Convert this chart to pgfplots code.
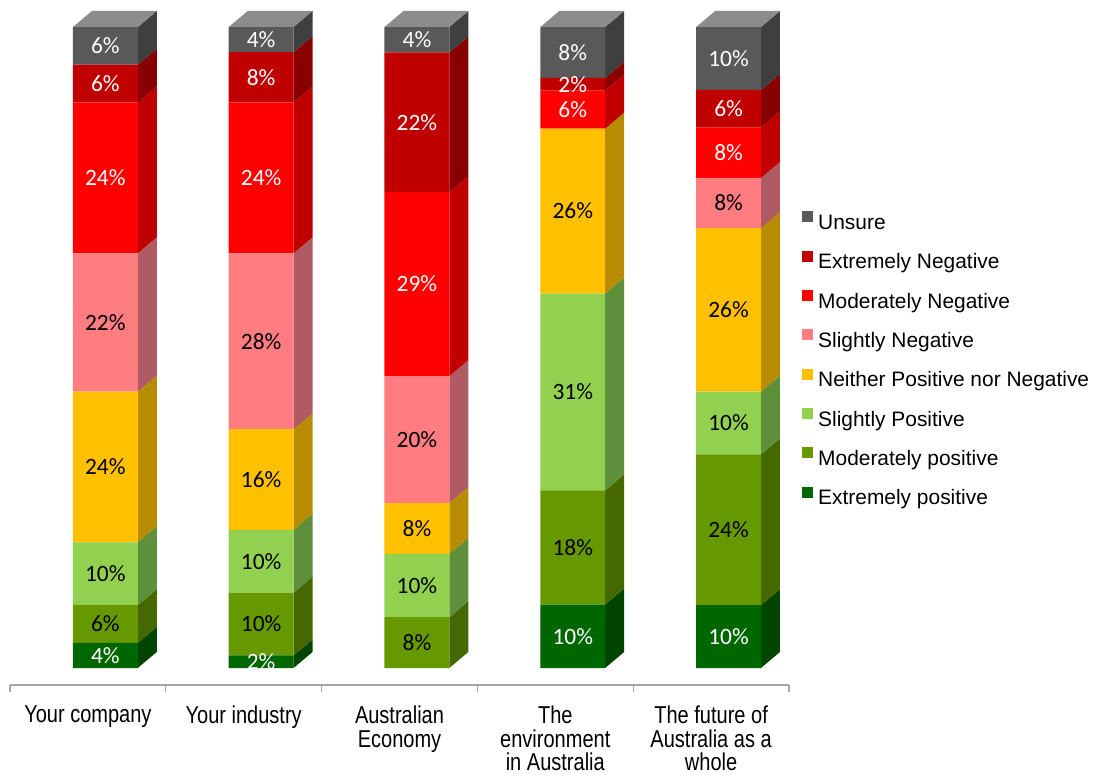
\documentclass[border=0pt]{standalone}
\usepackage{pgfplots}
\pgfplotsset{compat=1.18}
\usepackage{pgfplotstable}
\usepackage{fontspec}
\setmainfont{Liberation Sans}
\newfontfamily\lblfont{Carlito}
\newfontfamily\narrowfont[FakeStretch=0.82]{Liberation Sans}

\definecolor{cUn}{HTML}{595959}
\definecolor{cUnS}{HTML}{3F3F3F}
\definecolor{cEN}{HTML}{C00000}
\definecolor{cENS}{HTML}{880000}
\definecolor{cMN}{HTML}{FF0000}
\definecolor{cMNS}{HTML}{C00000}
\definecolor{cSN}{HTML}{FF7C80}
\definecolor{cSNS}{HTML}{B05A63}
\definecolor{cNe}{HTML}{FFC000}
\definecolor{cNeS}{HTML}{B88C00}
\definecolor{cSP}{HTML}{92D050}
\definecolor{cSPS}{HTML}{5E8F3A}
\definecolor{cMP}{HTML}{669900}
\definecolor{cMPS}{HTML}{456800}
\definecolor{cEP}{HTML}{006600}
\definecolor{cEPS}{HTML}{004600}
\definecolor{cTop}{HTML}{8C8C8C}
\definecolor{cAxis}{HTML}{A6A6A6}

% values as read (each bar rescaled so that it sums to 100), label = printed value
\pgfplotstableread{
x y lab
0 3.92 4\%
1 1.96 2\%
2 0 {}
3 9.90 10\%
4 9.80 10\%
}\extpos
\pgfplotstableread{
x y lab
0 5.88 6\%
1 9.80 10\%
2 7.92 8\%
3 17.82 18\%
4 23.53 24\%
}\modpos
\pgfplotstableread{
x y lab
0 9.80 10\%
1 9.80 10\%
2 9.90 10\%
3 30.69 31\%
4 9.80 10\%
}\slipos
\pgfplotstableread{
x y lab
0 23.53 24\%
1 15.69 16\%
2 7.92 8\%
3 25.74 26\%
4 25.49 26\%
}\neither
\pgfplotstableread{
x y lab
0 21.57 22\%
1 27.45 28\%
2 19.80 20\%
3 0 {}
4 7.84 8\%
}\slineg
\pgfplotstableread{
x y lab
0 23.53 24\%
1 23.53 24\%
2 28.71 29\%
3 5.94 6\%
4 7.84 8\%
}\modneg
\pgfplotstableread{
x y lab
0 5.88 6\%
1 7.84 8\%
2 21.78 22\%
3 1.98 2\%
4 5.88 6\%
}\extneg
\pgfplotstableread{
x y lab
0 5.88 6\%
1 3.92 4\%
2 3.96 4\%
3 7.92 8\%
4 9.80 10\%
}\unsure

% side face of one stacked segment: x index, bottom, top, colour
\newcommand\face[4]{%
  \pgfmathsetmacro\xa{#1+0.32}%
  \pgfmathsetmacro\xb{#1+0.442}%
  \pgfmathsetmacro\ya{#2+2.5}%
  \pgfmathsetmacro\yb{#3+2.5}%
  \edef\tmp{\noexpand\addplot[fill=#4,draw=none,mark=none] coordinates {(\xa,#2) (\xb,\ya) (\xb,\yb) (\xa,#3)};}%
  \tmp}
\newcommand\topface[1]{%
  \pgfmathsetmacro\xa{#1-0.096}%
  \pgfmathsetmacro\xc{#1+0.026}%
  \pgfmathsetmacro\xb{#1+0.442}%
  \pgfmathsetmacro\xd{#1+0.32}%
  \edef\tmp{\noexpand\addplot[fill=cTop,draw=none,mark=none] coordinates {(\xa,100) (\xc,102.5) (\xb,102.5) (\xd,100)};}%
  \tmp}

\pgfplotsset{
  common/.style={
    at={(10bp,91bp)}, anchor=south west,
    scale only axis, width=779bp, height=685bp,
    xmin=-0.5, xmax=4.5, ymin=-2.652, ymax=104.212, clip=false,
  },
  lbl/.style={nodes near coords, point meta=explicit symbolic,
    every node near coord/.append style={font=\lblfont\fontsize{23.5}{28}\selectfont, text=#1, anchor=center}},
}

\begin{document}
\begin{tikzpicture}
\useasboundingbox (0,0) rectangle (1101bp,776bp);
% 3D side and top faces
\begin{axis}[common, hide axis]
\face{0}{0}{3.92}{cEPS}\face{0}{3.92}{9.80}{cMPS}\face{0}{9.80}{19.60}{cSPS}\face{0}{19.60}{43.13}{cNeS}
\face{0}{43.13}{64.70}{cSNS}\face{0}{64.70}{88.23}{cMNS}\face{0}{88.23}{94.11}{cENS}\face{0}{94.11}{100}{cUnS}
\face{1}{0}{1.96}{cEPS}\face{1}{1.96}{11.76}{cMPS}\face{1}{11.76}{21.56}{cSPS}\face{1}{21.56}{37.25}{cNeS}
\face{1}{37.25}{64.70}{cSNS}\face{1}{64.70}{88.23}{cMNS}\face{1}{88.23}{96.07}{cENS}\face{1}{96.07}{100}{cUnS}
\face{2}{0}{7.92}{cMPS}\face{2}{7.92}{17.82}{cSPS}\face{2}{17.82}{25.74}{cNeS}
\face{2}{25.74}{45.54}{cSNS}\face{2}{45.54}{74.25}{cMNS}\face{2}{74.25}{96.03}{cENS}\face{2}{96.03}{100}{cUnS}
\face{3}{0}{9.90}{cEPS}\face{3}{9.90}{27.72}{cMPS}\face{3}{27.72}{58.41}{cSPS}\face{3}{58.41}{84.15}{cNeS}
\face{3}{84.15}{90.09}{cMNS}\face{3}{90.09}{92.07}{cENS}\face{3}{92.07}{100}{cUnS}
\face{4}{0}{9.80}{cEPS}\face{4}{9.80}{33.33}{cMPS}\face{4}{33.33}{43.13}{cSPS}\face{4}{43.13}{68.62}{cNeS}
\face{4}{68.62}{76.46}{cSNS}\face{4}{76.46}{84.30}{cMNS}\face{4}{84.30}{90.18}{cENS}\face{4}{90.18}{100}{cUnS}
\topface{0}\topface{1}\topface{2}\topface{3}\topface{4}
\end{axis}
% front faces
\begin{axis}[common,
  ybar stacked, bar width=0.417, bar shift=0.112,
  axis y line=none, axis x line*=bottom,
  x axis line style={draw=cAxis, line width=2.5bp},
  xtick={0,1,2,3,4},
  xticklabels={{Your company},{Your industry},{Australian\\Economy},{The\\environment\\in Australia},{The future of\\Australia as a\\whole}},
  major tick length=0pt,
  minor xtick={-0.5,0.5,1.5,2.5,3.5,4.5},
  minor tick length=7bp, tick align=outside,
  minor tick style={draw=cAxis, line width=1.2bp},
  xticklabel style={font=\narrowfont\fontsize{24.5}{23.5}\selectfont, align=center, anchor=north, inner sep=0pt, yshift=-21bp},
  legend image code/.code={\path[#1,draw=none] (0bp,2bp) rectangle (11bp,13bp);},
  reverse legend, legend cell align=left,
  legend style={at={(1.01669,0.6920)}, anchor=north west, draw=none, fill=none, inner sep=0pt,
    font=\fontsize{21}{25}\selectfont, row sep=16.6bp,
    nodes={inner sep=0pt, text height=15bp, text depth=4.5bp},
    /tikz/every odd column/.append style={column sep=5bp}},
]
\addplot[fill=cEP, draw=none, lbl=white] table[x=x, y=y, meta=lab] {\extpos};
\addplot[fill=cMP, draw=none, lbl=black] table[x=x, y=y, meta=lab] {\modpos};
\addplot[fill=cSP, draw=none, lbl=black] table[x=x, y=y, meta=lab] {\slipos};
\addplot[fill=cNe, draw=none, lbl=black] table[x=x, y=y, meta=lab] {\neither};
\addplot[fill=cSN, draw=none, lbl=black] table[x=x, y=y, meta=lab] {\slineg};
\addplot[fill=cMN, draw=none, lbl=white] table[x=x, y=y, meta=lab] {\modneg};
\addplot[fill=cEN, draw=none, lbl=white] table[x=x, y=y, meta=lab] {\extneg};
\addplot[fill=cUn, draw=none, lbl=white] table[x=x, y=y, meta=lab] {\unsure};
\legend{Extremely positive, Moderately positive, Slightly Positive, Neither Positive nor Negative, Slightly Negative, Moderately Negative, Extremely Negative, Unsure}
\end{axis}
\end{tikzpicture}
\end{document}
